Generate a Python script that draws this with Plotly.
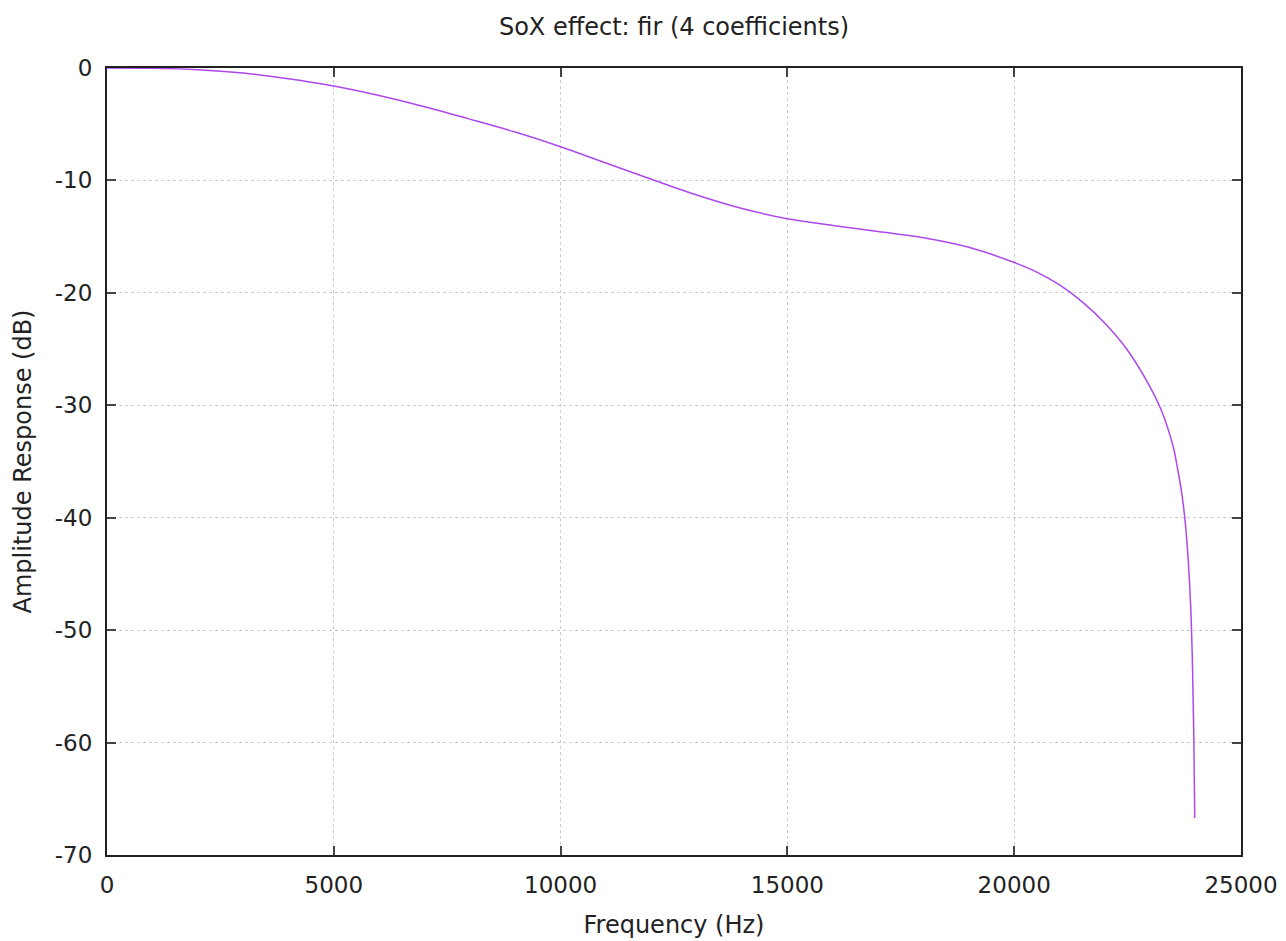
import plotly.graph_objects as go

# Frequency (Hz) and amplitude response (dB)
freq_hz = [0, 1000, 2000, 3000, 4000, 5000, 6000, 7000, 8000, 9000, 10000,
           11000, 12000, 13000, 14000, 15000, 16000, 17000, 18000, 19000, 20000,
           20500, 21000, 21500, 22000, 22500, 23000, 23250, 23500, 23600, 23700,
           23780, 23840, 23890, 23930, 23960, 23980]
response_db = [0, -0.03, -0.15, -0.45, -0.95, -1.6, -2.45, -3.45, -4.55, -5.7, -7.0,
               -8.45, -9.9, -11.3, -12.5, -13.4, -14.0, -14.55, -15.1, -15.95, -17.3,
               -18.15, -19.3, -20.8, -22.7, -25.1, -28.4, -30.5, -33.6, -35.6, -38.0,
               -40.8, -44.0, -47.8, -53.0, -59.5, -66.7]

x_ticks = [0, 5000, 10000, 15000, 20000, 25000]
y_ticks = [0, -10, -20, -30, -40, -50, -60, -70]

FONT = "DejaVu Sans"
FS_TICK = 23
FS_TITLE = 24

fig = go.Figure()
fig.add_trace(go.Scatter(
    x=freq_hz, y=response_db, mode="lines",
    line=dict(color="#ad48ec", width=1.5, shape="spline", smoothing=1.0),
    showlegend=False, hoverinfo="x+y",
))

axis_common = dict(
    showline=True, linecolor="#222222", linewidth=2, mirror="allticks",
    ticks="inside", ticklen=9, tickwidth=1.5, tickcolor="#444444",
    showgrid=True, gridcolor="#cccccc", griddash="dot", gridwidth=1,
    zeroline=False, automargin=False,
    tickfont=dict(family=FONT, size=FS_TICK, color="#222222"),
)

fig.update_layout(
    width=1286, height=941,
    margin=dict(l=99, r=53, t=60, b=94),
    paper_bgcolor="white", plot_bgcolor="white",
    font=dict(family=FONT, size=FS_TICK, color="#222222"),
    title=dict(text="SoX effect: fir (4 coefficients)", x=0.5, xref="paper",
               y=1 - 19 / 941, yref="container", xanchor="center", yanchor="middle",
               automargin=False,
               font=dict(family=FONT, size=FS_TITLE, color="#222222")),
    xaxis=dict(range=[0, 25000], tickvals=x_ticks, ticktext=[str(v) for v in x_ticks],
               title=dict(text="Frequency (Hz)", standoff=20,
                          font=dict(family=FONT, size=FS_TITLE)),
               ticklabelstandoff=8, **axis_common),
    yaxis=dict(range=[-70, 0], tickvals=y_ticks, ticktext=[str(v) for v in y_ticks],
               title=dict(text="Amplitude Response (dB)", standoff=16,
                          font=dict(family=FONT, size=FS_TITLE)),
               ticklabelstandoff=8, **axis_common),
)

fig.write_html("out.html")
